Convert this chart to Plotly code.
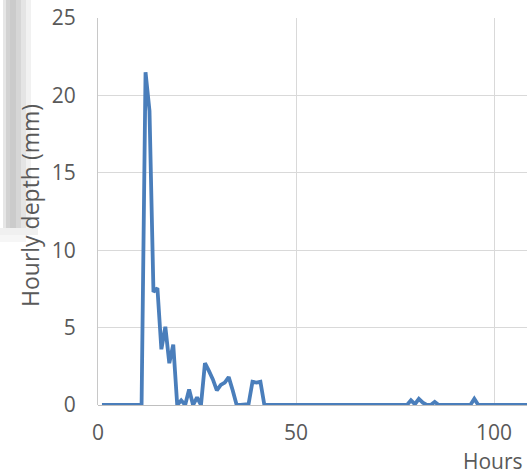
import plotly.graph_objects as go

hours = list(range(1, 111))
depth = [
    0, 0, 0, 0, 0, 0, 0, 0, 0, 0,            # 1-10
    0, 21.5, 19.0, 7.3, 7.55, 3.6, 5.05, 2.7, 3.9, 0,   # 11-20
    0.3, 0, 1.0, 0, 0.5, 0, 2.7, 2.2, 1.65, 0.95,        # 21-30
    1.3, 1.45, 1.8, 0.95, 0, 0, 0, 0.05, 1.5, 1.45,      # 31-40
    1.5, 0, 0, 0, 0, 0, 0, 0, 0, 0,                      # 41-50
    0, 0, 0, 0, 0, 0, 0, 0, 0, 0,                        # 51-60
    0, 0, 0, 0, 0, 0, 0, 0, 0, 0,                        # 61-70
    0, 0, 0, 0, 0, 0, 0, 0, 0.3, 0.05,                   # 71-80
    0.4, 0.15, 0, 0, 0.2, 0, 0, 0, 0, 0,                 # 81-90
    0, 0, 0, 0, 0.4, 0, 0, 0, 0, 0,                      # 91-100
    0, 0, 0, 0, 0, 0, 0, 0, 0, 0,                        # 101-110
]
x_ticks = [0, 50, 100]
y_ticks = [0, 5, 10, 15, 20, 25]

W, H = 527, 472
L, R, T, B = 98, 0, 18, 67
pw, ph = W - L - R, H - T - B

def px(xp):
    return (xp - L) / pw

def py(yp):
    return (H - B - yp) / ph

FONT = "Open Sans"
TXT = "#595959"

fig = go.Figure()
fig.add_trace(go.Scatter(
    x=hours, y=depth, mode="lines",
    line=dict(color="#4a7ebb", width=3.8),
    cliponaxis=False, showlegend=False, hoverinfo="skip",
))

# faint gray shadow artifact at the left edge
shapes = []
strips = [(3, 6, "#e6e6e6"), (6, 10, "#d2d2d2"), (10, 16, "#cbcbcb"),
          (16, 21, "#d6d6d6"), (21, 26, "#e4e4e4"), (26, 31, "#f1f1f1")]
for x0, x1, c in strips:
    shapes.append(dict(type="rect", xref="paper", yref="paper",
                       x0=px(x0), x1=px(x1), y0=py(228), y1=py(0),
                       fillcolor=c, line=dict(width=0), layer="below"))
fade = [(0, 38, 228, 235, "#f0f0f0"), (0, 26, 235, 242, "#f6f6f6")]
for x0, x1, y0, y1, c in fade:
    shapes.append(dict(type="rect", xref="paper", yref="paper",
                       x0=px(x0), x1=px(x1), y0=py(y1), y1=py(y0),
                       fillcolor=c, line=dict(width=0), layer="below"))

fig.update_layout(
    width=W, height=H,
    margin=dict(l=L, r=R, t=T, b=B, pad=0),
    paper_bgcolor="white", plot_bgcolor="white",
    font=dict(family=FONT, size=21, color=TXT),
    shapes=shapes,
    xaxis=dict(
        range=[0, 108.3], tickvals=x_ticks, ticktext=[str(v) for v in x_ticks],
        showgrid=True, gridcolor="#d9d9d9", gridwidth=1,
        zeroline=False, showline=False,
        ticks="", ticklabelstandoff=13,
        tickfont=dict(family=FONT, size=21, color=TXT),
    ),
    yaxis=dict(
        range=[0, 25], tickvals=y_ticks, ticktext=[str(v) for v in y_ticks],
        showgrid=True, gridcolor="#d9d9d9", gridwidth=1,
        zeroline=True, zerolinecolor="#bfbfbf", zerolinewidth=1,
        showline=True, linecolor="#c8c8c8", linewidth=1,
        ticks="", ticklabelstandoff=17,
        tickfont=dict(family=FONT, size=21, color=TXT),
    ),
    annotations=[
        dict(text="Hours", xref="paper", yref="paper",
             x=px(525), y=py(461), xanchor="right", yanchor="middle",
             showarrow=False, font=dict(family=FONT, size=21, color=TXT)),
        dict(text="Hourly depth (mm)", xref="paper", yref="paper",
             x=px(30), y=py(206), xanchor="center", yanchor="middle",
             textangle=-90, showarrow=False,
             font=dict(family=FONT, size=23, color=TXT)),
    ],
)

fig.write_html(
    "out.html",
    config={"displayModeBar": False, "staticPlot": True},
    post_script="document.body.style.margin='0';document.body.style.overflow='hidden';",
)
